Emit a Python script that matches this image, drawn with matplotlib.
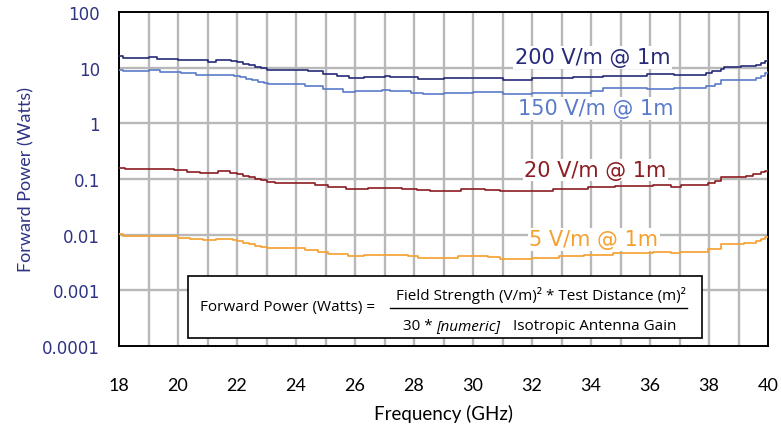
import numpy as np
import matplotlib.pyplot as plt
from matplotlib.patches import Rectangle
from matplotlib.lines import Line2D

# 各曲线的阶梯数据 (起始频率 GHz, 功率 W)，按图读数估计
f_200 = [18.0, 18.15, 19.0, 19.3, 20.0, 20.5, 21.0, 21.3, 21.8, 22.0, 22.2, 22.4, 22.6, 22.8,
         23.0, 24.4, 24.9, 25.4, 25.8, 26.3, 27.0, 27.2, 28.15, 29.0, 30.0, 31.0, 32.0, 32.9,
         33.4, 34.4, 35.9, 36.8, 37.9, 38.1, 38.4, 38.5, 39.1, 39.6, 39.75, 39.9, 40.0]
p_200 = [16.3, 14.8, 15.6, 14.6, 14.0, 13.5, 12.8, 13.6, 13.0, 12.4, 11.8, 11.0, 10.4, 9.8,
         9.0, 8.6, 7.74, 6.95, 6.47, 6.8, 7.2, 6.8, 6.2, 6.4, 6.6, 6.0, 6.4, 6.6,
         6.8, 7.1, 7.55, 7.4, 8.0, 8.8, 9.6, 10.3, 10.6, 11.0, 12.0, 13.0, 13.7]

f_150 = [18.0, 18.15, 19.0, 19.4, 20.1, 20.6, 21.9, 22.1, 22.3, 22.5, 22.7, 22.9, 23.05, 24.3,
         24.9, 25.6, 26.0, 26.9, 27.2, 27.9, 28.3, 29.0, 30.0, 31.0, 32.0, 34.0, 34.4, 35.9,
         36.8, 37.9, 38.2, 38.4, 39.6, 39.75, 39.9, 40.0]
p_150 = [9.1, 8.55, 8.9, 8.3, 7.87, 7.43, 7.1, 6.7, 6.3, 5.9, 5.5, 5.2, 4.99, 4.7,
         4.06, 3.68, 3.8, 4.0, 3.8, 3.5, 3.39, 3.48, 3.6, 3.3, 3.55, 3.8, 4.34, 4.2,
         4.3, 4.7, 5.06, 5.97, 6.5, 7.2, 7.9, 8.2]

f_20 = [18.0, 18.2, 19.85, 20.3, 20.75, 21.35, 21.75, 22.0, 22.2, 22.4, 22.6, 22.8, 23.0, 23.3,
        24.65, 25.1, 25.7, 26.45, 27.6, 28.1, 28.55, 29.05, 29.6, 30.4, 30.9, 31.95, 32.7, 33.9,
        34.8, 36.1, 36.7, 37.05, 37.95, 38.2, 38.4, 39.25, 39.5, 39.75, 39.9, 40.0]
p_20 = [0.157, 0.149, 0.143, 0.135, 0.129, 0.137, 0.128, 0.122, 0.115, 0.108, 0.101, 0.095, 0.090, 0.0855,
        0.0792, 0.0733, 0.0668, 0.0693, 0.066, 0.063, 0.060, 0.0613, 0.065, 0.063, 0.060, 0.062, 0.0668, 0.0706,
        0.0738, 0.077, 0.073, 0.077, 0.085, 0.093, 0.107, 0.115, 0.125, 0.135, 0.141, 0.143]

f_5 = [18.0, 18.15, 20.0, 20.4, 20.85, 21.3, 21.85, 22.0, 22.2, 22.4, 22.6, 22.8, 23.0, 24.3,
       24.75, 25.1, 25.75, 26.3, 27.8, 28.15, 29.5, 30.5, 30.9, 32.0, 32.9, 33.75, 34.75, 36.1,
       36.7, 37.0, 37.95, 38.4, 39.2, 39.6, 39.75, 39.9, 40.0]
p_5 = [0.0103, 0.0094, 0.0088, 0.0085, 0.0081, 0.0085, 0.0080, 0.0076, 0.0071, 0.0067, 0.0063, 0.0060, 0.0057, 0.0053,
       0.0049, 0.00444, 0.0041, 0.0043, 0.0041, 0.00385, 0.0041, 0.0039, 0.0037, 0.0038, 0.0041, 0.0044, 0.0047, 0.0049,
       0.0047, 0.0048, 0.0056, 0.0068, 0.0071, 0.0076, 0.0082, 0.0089, 0.0090]

series_labels = ['200 V/m @ 1m', '150 V/m @ 1m', '20 V/m @ 1m', '5 V/m @ 1m']
x_ticks = [18, 20, 22, 24, 26, 28, 30, 32, 34, 36, 38, 40]
y_ticks = [0.0001, 0.001, 0.01, 0.1, 1, 10, 100]
y_tick_labels = ['0.0001', '0.001', '0.01', '0.1', '1', '10', '100']

c_200 = '#262A78'
c_150 = '#5A7BC9'
c_20 = '#8C1D22'
c_5 = '#F5A02E'
navy = '#2E3384'

fig = plt.figure(figsize=(7.81, 4.27), dpi=100)
ax = fig.add_axes([119 / 781, 1 - 347 / 427, (768 - 119) / 781, (347 - 13) / 427])

ax.set_yscale('log')
ax.set_xlim(18, 40)
ax.set_ylim(0.0001, 100)

# 网格：竖线每 1 GHz，横线每个数量级
for xv in range(19, 40):
    ax.axvline(xv, color='#B8B8B8', lw=1.7, zorder=0)
for yv in y_ticks[1:-1]:
    ax.axhline(yv, color='#B8B8B8', lw=1.7, zorder=0)

ax.plot(f_200, p_200, drawstyle='steps-post', color=c_200, lw=1.2, zorder=3)
ax.plot(f_150, p_150, drawstyle='steps-post', color=c_150, lw=1.2, zorder=3)
ax.plot(f_20, p_20, drawstyle='steps-post', color=c_20, lw=1.2, zorder=3)
ax.plot(f_5, p_5, drawstyle='steps-post', color=c_5, lw=1.2, zorder=3)

# 曲线标签（白底盖住网格）
lab_kw = dict(ha='center', va='center', fontsize=15, family='DejaVu Sans', zorder=2,
              bbox=dict(facecolor='white', edgecolor='none', pad=1))
ax.text(34.05, 15.5, series_labels[0], color=c_200, **lab_kw)
ax.text(34.15, 1.87, series_labels[1], color=c_150, **lab_kw)
ax.text(34.15, 0.145, series_labels[2], color=c_20, **lab_kw)
ax.text(34.1, 0.0083, series_labels[3], color=c_5, **lab_kw)

ax.set_xticks(x_ticks)
ax.set_xticklabels([str(v) for v in x_ticks], fontsize=13, family='Lato')
ax.set_yticks(y_ticks)
ax.set_yticklabels(y_tick_labels, fontsize=12, family='DejaVu Sans', color=navy)
ax.minorticks_off()
ax.tick_params(axis='both', length=0)
ax.tick_params(axis='x', pad=22)
ax.tick_params(axis='y', pad=13.5)

for sp in ax.spines.values():
    sp.set_linewidth(1.4)
    sp.set_color('black')

ax.set_xlabel('Frequency (GHz)', fontsize=13.5, family='Lato', labelpad=8)
ax.set_ylabel('Forward Power (Watts)', fontsize=13, family='Lato', color=navy, labelpad=6)

# 公式框（图像像素坐标换算）
W, H = 781, 427
def fx(px):
    return px / W
def fy(py):
    return 1 - py / H

box = Rectangle((fx(188), fy(339)), fx(702) - fx(188), fy(277) - fy(339),
                transform=fig.transFigure, facecolor='white', edgecolor='black', lw=1.2, zorder=5)
fig.patches.append(box)

fkw = dict(fontsize=11, family='Open Sans', color='black', zorder=6)
fig.text(fx(200), fy(308), 'Forward Power (Watts) =', ha='left', va='center', **fkw)
fig.text(fx(541), fy(296), 'Field Strength (V/m)\u00b2 * Test Distance (m)\u00b2',
         ha='center', va='center', **fkw)
fig.add_artist(Line2D([fx(390), fx(687)], [fy(309), fy(309)], transform=fig.transFigure,
                      color='black', lw=1.0, zorder=6))
fig.text(fx(403), fy(327), '30 *', ha='left', va='center', **fkw)
fig.text(fx(436), fy(327), '[numeric]', ha='left', va='center', style='italic', **fkw)
fig.text(fx(513), fy(327), 'Isotropic Antenna Gain', ha='left', va='center', **fkw)

fig.savefig('out.png', dpi=100)
